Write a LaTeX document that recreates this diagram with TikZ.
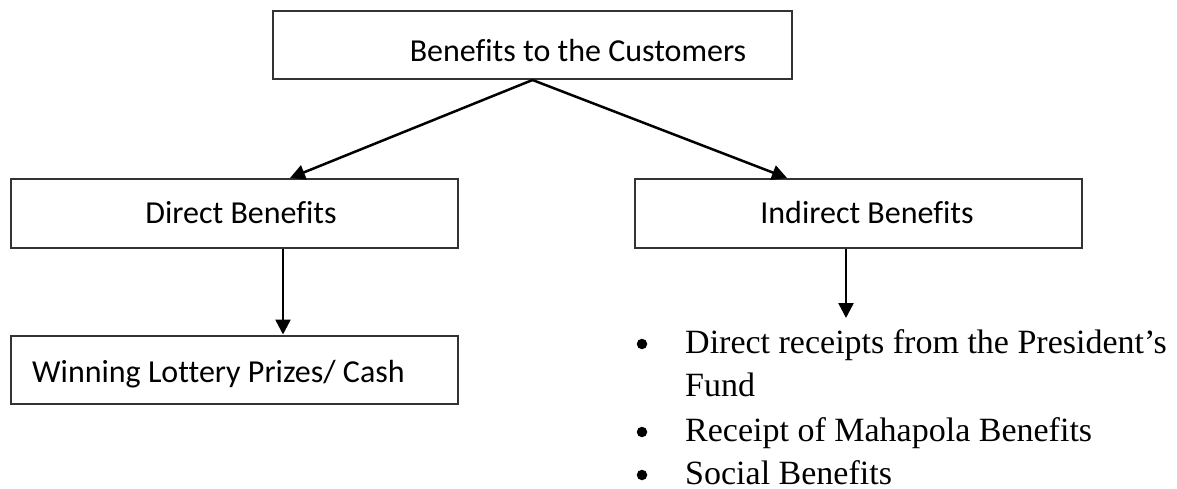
\documentclass[tikz,border=0pt]{standalone}
\usepackage{fontspec}
\setmainfont{Carlito}[Ligatures={NoCommon}]
\newfontfamily\listfont{Liberation Serif}
\usetikzlibrary{arrows.meta}
\begin{document}
\begin{tikzpicture}[x=1pt,y=-1pt,
  boxst/.style={draw=black!80,line width=2pt,rectangle,inner sep=0pt},
  lbl/.style={anchor=base,inner sep=0pt,font=\fontsize{32}{38}\selectfont},
  itm/.style={anchor=base west,inner sep=0pt,font=\listfont\fontsize{34}{40}\selectfont},
  arr/.style={line width=2.5pt,-{Triangle[length=15pt,width=15pt]}},
  bul/.style={circle,fill=black,inner sep=0pt,minimum size=10.5pt}]
\useasboundingbox (0,0) rectangle (1177,489);
% boxes
\node[boxst,minimum width=519pt,minimum height=68pt] (top) at (532.5,45) {};
\node[boxst,minimum width=447pt,minimum height=69pt] (direct) at (234.5,213.5) {};
\node[boxst,minimum width=447pt,minimum height=69pt] (indirect) at (858.5,213.5) {};
\node[boxst,minimum width=447pt,minimum height=68pt] (win) at (234.5,369.5) {};
% labels
\node[lbl] (ttop) at (578,62) {Benefits to the Customers};
\node[lbl] (tdirect) at (241,223) {Direct Benefits};
\node[lbl] (tindirect) at (867,223) {Indirect Benefits};
\node[lbl,anchor=base west] (twin) at (32,382) {Winning Lottery Prizes/ Cash};
% list
\node[itm] (i1) at (685,353) {Direct receipts from the President’s};
\node[itm] (i1b) at (685,396) {Fund};
\node[itm] (i2) at (685,441) {Receipt of Mahapola Benefits};
\node[itm] (i3) at (685,484) {Social Benefits};
\node[bul] (b1) at (642,344) {};
\node[bul] (b2) at (642,432) {};
\node[bul] (b3) at (642,475) {};
\coordinate (listtop) at (846,318);
% arrows
\draw[arr] (top.south) -- ([xshift=55.5pt]direct.north);
\draw[arr] (top.south) -- ([xshift=-71.5pt]indirect.north);
\draw[arr] ([xshift=48.5pt]direct.south) -- ([xshift=48.5pt]win.north);
\draw[arr] ([xshift=-12.5pt]indirect.south) -- (listtop);
\end{tikzpicture}
\end{document}
